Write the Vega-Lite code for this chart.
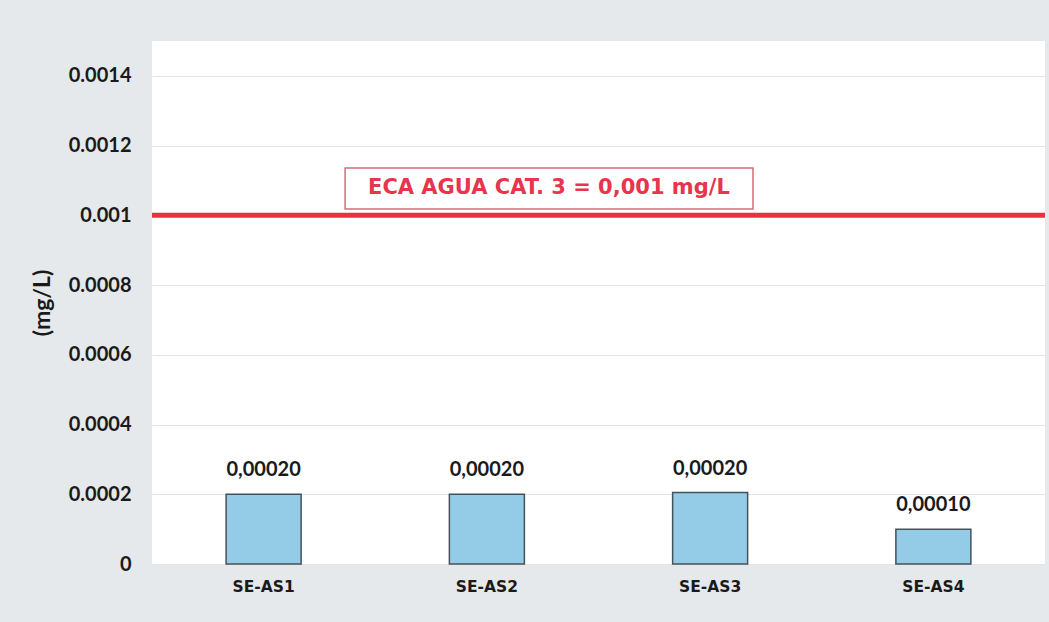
{
  "$schema": "https://vega.github.io/schema/vega-lite/v6.json",
  "width": 893,
  "height": 523,
  "autosize": {"type": "none"},
  "padding": {"left": 152, "top": 41, "right": 4, "bottom": 58},
  "background": "#e6e9eb",
  "config": {
    "view": {"fill": "white", "stroke": null},
    "font": "Lato"
  },
  "datasets": {
    "samples": [
      {"estacion": "SE-AS1", "valor": 0.0002, "etiqueta": "0,00020"},
      {"estacion": "SE-AS2", "valor": 0.0002, "etiqueta": "0,00020"},
      {"estacion": "SE-AS3", "valor": 0.000205, "etiqueta": "0,00020"},
      {"estacion": "SE-AS4", "valor": 0.0001, "etiqueta": "0,00010"}
    ],
    "eca": [{"limite": 0.001}],
    "nota": [{"x1": 0.865, "x2": 2.692, "y1": 0.001018, "y2": 0.001136, "xm": 1.778, "ym": 0.001077, "texto": "ECA AGUA CAT. 3 = 0,001 mg/L"}]
  },
  "layer": [
    {
      "data": {"name": "samples"},
      "layer": [
        {
          "mark": {"type": "bar", "fill": "#94cbe7", "stroke": "#46525a", "strokeWidth": 1.5},
          "encoding": {
            "x": {
              "field": "estacion", "type": "nominal", "sort": null,
              "scale": {"paddingInner": 0.664, "paddingOuter": 0.332},
              "axis": {
                "title": null, "labelAngle": 0, "domain": false, "ticks": false,
                "labelFont": "DejaVu Sans", "labelFontWeight": "bold", "labelFontSize": 15.5,
                "labelColor": "#1a1a1a", "labelPadding": 15
              }
            },
            "y": {
              "field": "valor", "type": "quantitative",
              "scale": {"domain": [0, 0.0015], "nice": false},
              "axis": {
                "title": "(mg/L)", "values": [0, 0.0002, 0.0004, 0.0006, 0.0008, 0.001, 0.0012, 0.0014],
                "format": ".4~f", "domain": false, "ticks": false,
                "labelFont": "Lato", "labelFontWeight": "bold", "labelFontSize": 20, "labelColor": "#1a1a1a",
                "labelPadding": 21,
                "titleFont": "Lato", "titleFontWeight": "bold", "titleFontSize": 23, "titleColor": "#1a1a1a",
                "titlePadding": 14,
                "gridColor": "#e4e4e4", "gridWidth": 1
              }
            }
          }
        },
        {
          "mark": {"type": "text", "baseline": "bottom", "dy": -14, "font": "Lato", "fontWeight": "bold", "fontSize": 20, "color": "#1a1a1a"},
          "encoding": {
            "x": {"field": "estacion", "type": "nominal", "sort": null},
            "y": {"field": "valor", "type": "quantitative"},
            "text": {"field": "etiqueta"}
          }
        }
      ]
    },
    {
      "data": {"name": "eca"},
      "mark": {"type": "rule", "color": "#e8323f", "strokeWidth": 5},
      "encoding": {
        "y": {"field": "limite", "type": "quantitative"}
      }
    },
    {
      "data": {"name": "nota"},
      "layer": [
        {
          "mark": {"type": "rect", "fill": "white", "stroke": "#d9687a", "strokeWidth": 1.5},
          "encoding": {
            "x": {"field": "x1", "type": "quantitative", "scale": {"domain": [0, 4], "nice": false}, "axis": null},
            "x2": {"field": "x2"},
            "y": {"field": "y1", "type": "quantitative"},
            "y2": {"field": "y2"}
          }
        },
        {
          "mark": {"type": "text", "font": "DejaVu Sans", "fontWeight": "bold", "fontSize": 21, "color": "#e8344c", "align": "center", "baseline": "middle"},
          "encoding": {
            "x": {"field": "xm", "type": "quantitative", "scale": {"domain": [0, 4], "nice": false}, "axis": null},
            "y": {"field": "ym", "type": "quantitative"},
            "text": {"field": "texto"}
          }
        }
      ]
    }
  ],
  "resolve": {"scale": {"x": "independent"}}
}
